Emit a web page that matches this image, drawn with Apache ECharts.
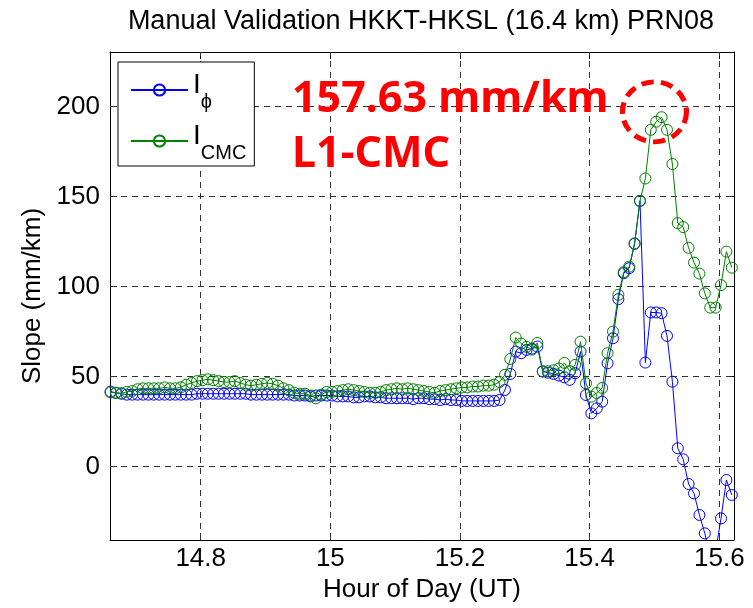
<!DOCTYPE html>
<html><head><meta charset="utf-8">
<script src="https://cdn.jsdelivr.net/npm/echarts@6/dist/echarts.min.js"></script>
<style>html,body{margin:0;padding:0;background:#fff}#c{width:753px;height:608px}</style>
</head><body><div id="c"></div>
<script>
// sampling: one point every 30 s starting at this hour
const startHour = 14.661;
const sampleStep = 1 / 120;

const iPhi = [
  41.7, 41, 40.5, 40, 40, 40, 40, 40, 40, 40,
  40, 40, 40, 40, 40, 40, 40.5, 40.5, 40.5, 40.5,
  40.5, 40.5, 40.5, 40.5, 40.5, 40.5, 40, 40, 40, 40,
  40, 40, 40, 40, 39.5, 39.5, 39.5, 39, 39.5, 39.5,
  39.5, 39.5, 39, 39, 39, 38.5, 38.5, 39, 39, 38.5,
  38.5, 38, 38, 38, 38, 38, 37.5, 38, 38, 37.5,
  37.5, 37, 37.5, 37, 37, 36.5, 36.5, 36.5, 36.5, 36.5,
  36.5, 36.5, 37,
  42.6, 51.5, 63.9, 63, 64.8, 65.5, 66.7,
  52.8, 52.2, 51.5, 50.6, 49.6, 48.2, 51.9, 63.9,
  39.8, 29.6, 32.4, 36.1, 57.4, 71.3, 93, 107.4, 110.2, 123.7, 147.6,
  57.8, 85.6, 85.6, 85.2, 72.6, 47.2, 10.2, 4.1, -9.6, -14.8, -26.8, -37, -50, -47, -28.7, -7.4, -15.7
];
const iCmc = [
  41.2, 41, 40.8, 41.5, 42,
  43, 43.5, 43.5, 43.5, 43.5, 44, 43.5, 43.5, 44,
  45.5, 46.5, 47.5, 48, 48.5, 48,
  47.5, 47, 47, 47.5, 46.5, 45.5, 45, 45.5, 46,
  46.5, 46, 45, 43.5, 42.5,
  41, 40.5, 40.5, 39.5, 38, 40, 41.5, 41.5,
  42, 42.5, 43, 42.5, 42, 41.5, 41, 41, 41.5,
  42.5, 43, 43.5, 43, 43.5, 43, 42.5,
  42, 41.5, 41, 42, 42.5,
  43, 43.5, 44, 44, 44.5, 44.5, 45, 45, 45.5, 47,
  51, 59.8, 71.7, 68.3, 66.5, 65, 68.7,
  53, 53, 53.5, 54.5, 57.6, 53, 56.5, 69.4,
  46.3, 38.9, 40.9, 43.7, 63, 75, 95.4, 108, 111, 124, 147.5,
  160, 187, 191.5, 194, 187, 168, 135.2, 133, 121.5, 113.3, 107.2, 96.2, 88.3, 88.3, 100.8, 119.4, 110.5
];
const xTicks = [14.8, 15, 15.2, 15.4, 15.6];
const yTicks = [0, 50, 100, 150, 200];
const xRange = [14.6601, 15.6227];
const yRange = [-40.7, 230.2];
const peakMarker = [15.5, 197];
const titleText = 'Manual Validation HKKT-HKSL (16.4 km) PRN08';
const noteLines = ['157.63 mm/km', 'L1-CMC'];

const FONT = '"Liberation Sans", Arial, sans-serif';
const toPairs = arr => arr.map((v, i) => [startHour + i * sampleStep, v]);

const chart = echarts.init(document.getElementById('c'), null, {renderer: 'canvas'});

const tickCommon = {inside: true, length: 7, lineStyle: {color: '#000', width: 1}};
const gridLineStyle = {color: '#333', width: 1, type: [6, 5]};

chart.setOption({
  animation: false,
  backgroundColor: '#fff',
  grid: {left: 110, right: 19, top: 52, bottom: 68, containLabel: false},
  graphic: [
    {type: 'text', x: 421, y: 22, z: 10, style: {text: titleText, font: '27px ' + FONT, fill: '#000', align: 'center', verticalAlign: 'middle'}},
    {type: 'text', x: 292, y: 100, z: 10, style: {text: noteLines[0], font: 'bold 43px "Noto Sans", sans-serif', fill: '#ff0000', align: 'left', verticalAlign: 'middle'}},
    {type: 'text', x: 292, y: 155, z: 10, style: {text: noteLines[1], font: 'bold 43px "Noto Sans", sans-serif', fill: '#ff0000', align: 'left', verticalAlign: 'middle'}}
  ],
  legend: {
    orient: 'vertical', left: 118, top: 62,
    padding: [9, 8, 3, 12], itemGap: 10, itemWidth: 57, itemHeight: 14,
    backgroundColor: '#fff', borderColor: '#000', borderWidth: 1, borderRadius: 0,
    data: ['Iphi', 'Icmc'],
    formatter: name => name === 'Iphi' ? '{i|I}{s|ϕ}' : '{i|I}{s|CMC}',
    textStyle: {
      color: '#000',
      rich: {
        i: {fontSize: 28, fontFamily: FONT, color: '#000', padding: [0, 0, 10, 0]},
        s: {fontSize: 20, fontFamily: FONT, color: '#000', padding: [24, 0, 0, 0]}
      }
    }
  },
  xAxis: [{
    type: 'value', min: xRange[0], max: xRange[1], position: 'bottom',
    name: 'Hour of Day (UT)', nameLocation: 'middle', nameGap: 36,
    nameTextStyle: {fontSize: 26, fontFamily: FONT, color: '#000'},
    axisLine: {show: true, onZero: false, lineStyle: {color: '#000', width: 1}},
    axisTick: Object.assign({customValues: xTicks}, tickCommon),
    axisLabel: {customValues: xTicks, fontSize: 26, fontFamily: FONT, color: '#000', margin: 6,
      formatter: v => String(+v.toFixed(1))},
    splitLine: {show: false}
  }, {
    type: 'value', min: xRange[0], max: xRange[1], position: 'top',
    axisLine: {show: true, onZero: false, lineStyle: {color: '#000', width: 1}},
    axisTick: Object.assign({customValues: xTicks}, tickCommon),
    axisLabel: {show: false}, splitLine: {show: false}
  }],
  yAxis: [{
    type: 'value', min: yRange[0], max: yRange[1], position: 'left',
    name: 'Slope (mm/km)', nameLocation: 'middle', nameGap: 64,
    nameTextStyle: {fontSize: 26, fontFamily: FONT, color: '#000'},
    axisLine: {show: true, onZero: false, lineStyle: {color: '#000', width: 1}},
    axisTick: Object.assign({customValues: yTicks}, tickCommon),
    axisLabel: {customValues: yTicks, fontSize: 26, fontFamily: FONT, color: '#000', margin: 10},
    splitLine: {show: false}
  }, {
    type: 'value', min: yRange[0], max: yRange[1], position: 'right',
    axisLine: {show: true, onZero: false, lineStyle: {color: '#000', width: 1}},
    axisTick: Object.assign({customValues: yTicks}, tickCommon),
    axisLabel: {show: false}, splitLine: {show: false}
  }],
  series: [{
    name: 'Iphi', type: 'line', xAxisIndex: 0, yAxisIndex: 0, z: 3,
    data: toPairs(iPhi),
    symbol: 'circle', symbolSize: 11, showAllSymbol: true,
    lineStyle: {color: '#0000ff', width: 1},
    itemStyle: {color: 'rgba(0,0,0,0)', borderColor: '#0000ff', borderWidth: 1},
    emphasis: {disabled: true},
    markLine: {
      silent: true, symbol: ['none', 'none'], z: 1, label: {show: false},
      lineStyle: gridLineStyle, emphasis: {disabled: true},
      data: xTicks.map(v => ({xAxis: v})).concat(yTicks.map(v => ({yAxis: v})))
    }
  }, {
    name: 'Icmc', type: 'line', xAxisIndex: 0, yAxisIndex: 0, z: 4,
    data: toPairs(iCmc),
    symbol: 'circle', symbolSize: 11, showAllSymbol: true,
    lineStyle: {color: '#008000', width: 1},
    itemStyle: {color: 'rgba(0,0,0,0)', borderColor: '#008000', borderWidth: 1},
    emphasis: {disabled: true},
    markPoint: {
      silent: true, symbol: 'circle', symbolSize: [64, 60],
      data: [{coord: peakMarker}],
      label: {show: false},
      itemStyle: {color: 'rgba(0,0,0,0)', borderColor: '#ff0000', borderWidth: 5, borderType: [12, 7]}
    }
  }]
});
</script></body></html>
